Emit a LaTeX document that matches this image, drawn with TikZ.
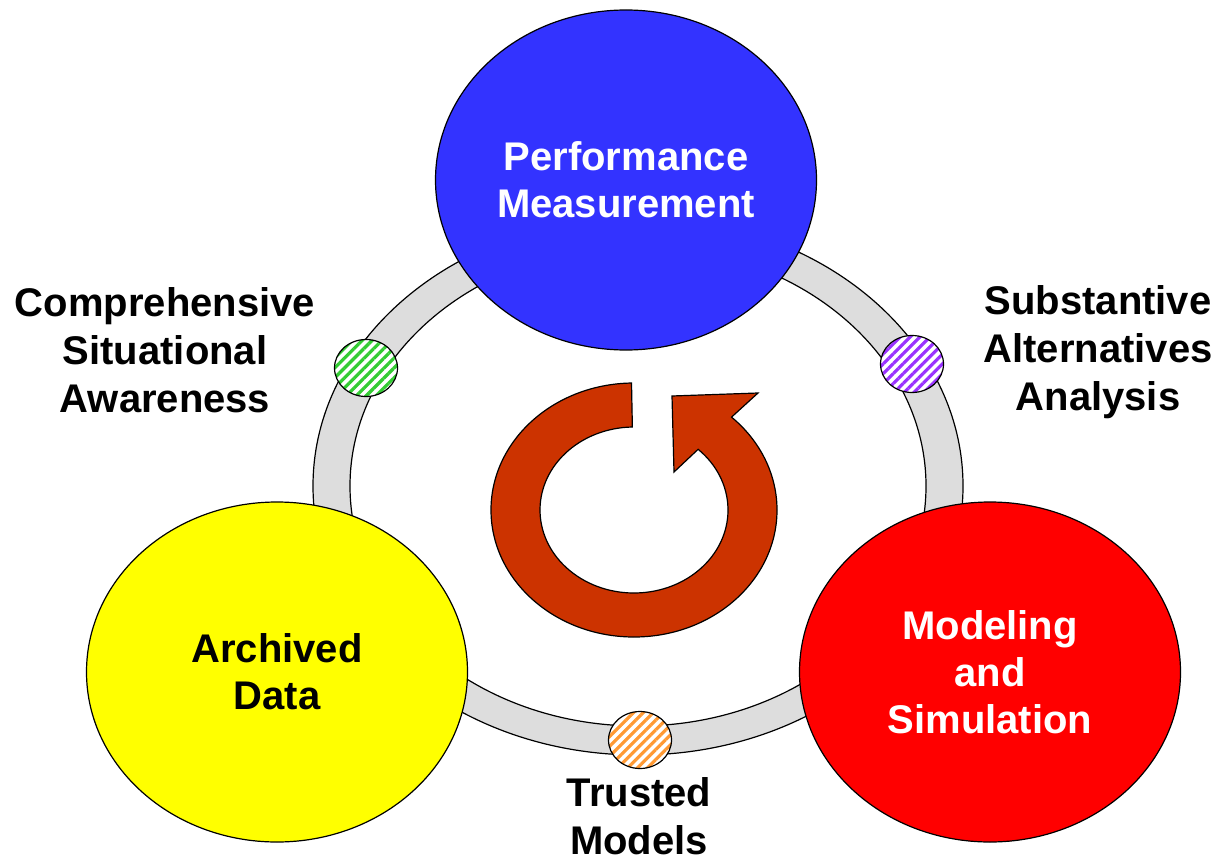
\documentclass[tikz,border=0pt]{standalone}
\usepackage{fontspec}
\setmainfont{Liberation Sans}
\usetikzlibrary{shapes.geometric,patterns.meta,calc}
\definecolor{pmblue}{HTML}{3333FF}
\definecolor{msred}{HTML}{FF0000}
\definecolor{adyellow}{HTML}{FFFF00}
\definecolor{ringgray}{HTML}{DDDDDD}
\definecolor{arrowred}{HTML}{CC3300}
\definecolor{hgreen}{HTML}{33CC33}
\definecolor{hpurple}{HTML}{9933FF}
\definecolor{horange}{HTML}{FF9933}
\begin{document}
\begin{tikzpicture}[x=1pt,y=1pt,
  bigel/.style={ellipse, draw=black, line width=1.2pt, inner sep=0pt,
    minimum width=381pt, minimum height=340pt,
    font=\fontsize{40}{47}\selectfont\bfseries, align=center},
  hatchdot/.style={ellipse, draw=black, line width=1.2pt, inner sep=0pt,
    minimum width=63pt, minimum height=57pt, preaction={fill=white},
    pattern={Lines[angle=45,distance=7pt,line width=3.2pt]}, pattern color=#1},
  lbl/.style={font=\fontsize{40}{48}\selectfont\bfseries, align=center, inner sep=0pt}]
\useasboundingbox (0,0) rectangle (1222,-861);
% ring
\path[fill=ringgray, draw=black, line width=1.2pt, even odd rule]
  (638,-486) ellipse [x radius=325pt, y radius=269pt]
  (638,-486) ellipse [x radius=288pt, y radius=240pt];
% hatched markers
\node[hatchdot=hgreen] (csa) at (366,-368) {};
\node[hatchdot=hpurple] (saa) at (912,-364) {};
\node[hatchdot=horange] (tm) at (640,-740) {};
% big ellipses
\node[bigel, fill=pmblue, text=white] (pm) at (626,-180) {Performance\\Measurement};
\node[bigel, fill=adyellow, text=black] (ad) at (277,-672) {Archived\\Data};
\node[bigel, fill=msred, text=white] (ms) at (990,-672) {Modeling\\and\\Simulation};
% cycle arrow
\path[fill=arrowred, draw=black, line width=1.2pt]
  (634,-510) ++(91:143pt and 127pt)
  arc[start angle=91, end angle=407, x radius=143pt, y radius=127pt]
  -- (758,-393) -- (672,-396) -- (674,-472)
  -- ($(634,-510)+(407:94pt and 83pt)$)
  arc[start angle=407, end angle=91, x radius=94pt, y radius=83pt]
  -- cycle;
% labels
\node[lbl] (csalbl) at (165,-350) {Comprehensive\\Situational\\Awareness};
\node[lbl] (saalbl) at (1098,-352) {Substantive\\Alternatives\\Analysis};
\node[lbl] (tmlbl) at (639,-816) {Trusted\\Models};
\end{tikzpicture}
\end{document}
